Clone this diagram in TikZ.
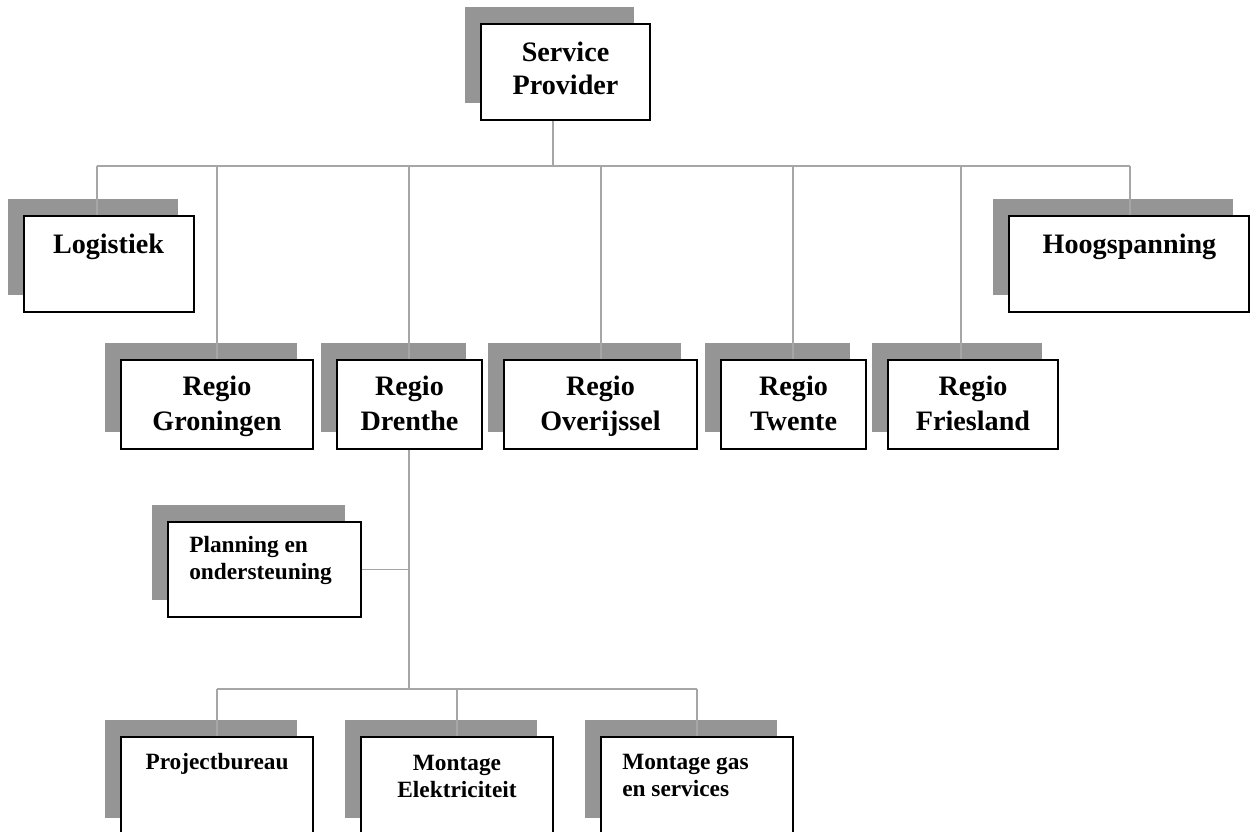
\documentclass[tikz,border=0pt]{standalone}
\usepackage{fontspec}
\setmainfont{Liberation Serif}
\usetikzlibrary{fit}
\definecolor{shadowgray}{HTML}{959595}
\definecolor{linegray}{HTML}{A6A6A6}
\tikzset{
  box/.style={draw=black, line width=1.5pt, fill=white, inner sep=0pt,
    preaction={fill=shadowgray, draw=none, transform canvas={shift={(-12pt,12.5pt)}}}},
  conn/.style={draw=linegray, line width=1.3pt},
  bigtxt/.style={inner sep=0pt, align=center, font=\bfseries\fontsize{21.1}{24.2}\selectfont},
  regiotxt/.style={inner sep=0pt, align=center, font=\bfseries\fontsize{21.1}{25.7}\selectfont},
  smalltxt/.style={inner sep=0pt, font=\bfseries\fontsize{17.5}{20}\selectfont},
}
\begin{document}
\begin{tikzpicture}[x=0.75pt, y=-0.75pt]
\useasboundingbox (0,0) rectangle (1250,832);
\clip (0,0) rectangle (1250,832);
% boxes
\node[box, fit={(481,24) (650,120)}] (sp) {};
\node[box, fit={(24,216) (194,312)}] (log) {};
\node[box, fit={(1009,216) (1249,312)}] (hoog) {};
\node[box, fit={(121,360) (313,449)}] (gro) {};
\node[box, fit={(337,360) (482,449)}] (dre) {};
\node[box, fit={(504,360) (697,449)}] (ove) {};
\node[box, fit={(721,360) (866,449)}] (twe) {};
\node[box, fit={(888,360) (1058,449)}] (fri) {};
\node[box, fit={(168,522) (361,617)}] (plan) {};
\node[box, fit={(121,737) (313,835)}] (proj) {};
\node[box, fit={(361,737) (553,835)}] (mel) {};
\node[box, fit={(601,737) (793,835)}] (mgas) {};
% texts (base anchor = baseline of last line)
\node[bigtxt, anchor=base] (spt) at (565.5,94) {Service\\Provider};
\node[bigtxt, anchor=base] (logt) at (108.5,253) {Logistiek};
\node[bigtxt, anchor=base] (hoogt) at (1129.5,253) {Hoogspanning};
\node[regiotxt, anchor=base] (grot) at (217,430) {Regio\\Groningen};
\node[regiotxt, anchor=base] (dret) at (409.5,430) {Regio\\Drenthe};
\node[regiotxt, anchor=base] (ovet) at (600.5,430) {Regio\\Overijssel};
\node[regiotxt, anchor=base] (twet) at (793.5,430) {Regio\\Twente};
\node[regiotxt, anchor=base] (frit) at (973,430) {Regio\\Friesland};
\node[smalltxt, align=left, anchor=base west] (plant) at (189,579) {Planning en\\ondersteuning};
\node[smalltxt, align=center, anchor=base] (projt) at (217,769) {Projectbureau};
\node[smalltxt, align=center, anchor=base] (melt) at (457,797) {Montage\\Elektriciteit};
\node[smalltxt, align=left, anchor=base west] (mgast) at (622,796.5) {Montage gas\\en services};
% junctions
\coordinate (j0) at (553,166);
\coordinate (jlog) at (97,166);
\coordinate (jgro) at (217,166);
\coordinate (jdre) at (409,166);
\coordinate (jove) at (601,166);
\coordinate (jtwe) at (793,166);
\coordinate (jfri) at (961,166);
\coordinate (jhoog) at (1130,166);
\coordinate (k0) at (409,689);
\coordinate (kproj) at (217,689);
\coordinate (kmel) at (457,689);
\coordinate (kmgas) at (697,689);
% connectors
\draw[conn] (sp.south -| j0) -- (j0);
\draw[conn] (jlog) -- (jhoog);
\draw[conn] (jlog) -- (jlog |- log.north);
\draw[conn] (jgro) -- (jgro |- gro.north);
\draw[conn] (jdre) -- (jdre |- dre.north);
\draw[conn] (jove) -- (jove |- ove.north);
\draw[conn] (jtwe) -- (jtwe |- twe.north);
\draw[conn] (jfri) -- (jfri |- fri.north);
\draw[conn] (jhoog) -- (jhoog |- hoog.north);
\draw[conn] (dre.south -| k0) -- (k0);
\draw[conn] (plan.east) -- (plan.east -| k0);
\draw[conn] (kproj) -- (kmgas);
\draw[conn] (kproj) -- (kproj |- proj.north);
\draw[conn] (kmel) -- (kmel |- mel.north);
\draw[conn] (kmgas) -- (kmgas |- mgas.north);
\end{tikzpicture}
\end{document}
